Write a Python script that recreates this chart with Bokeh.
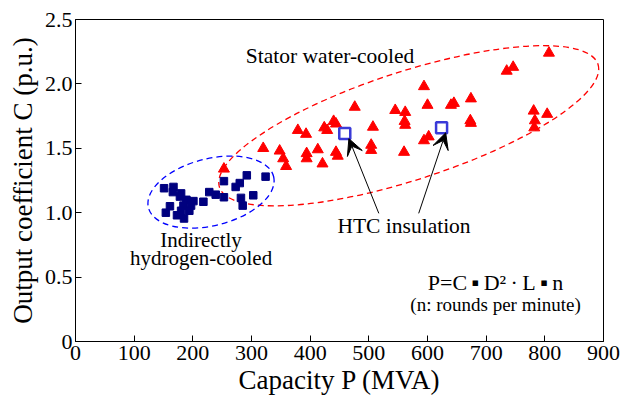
import numpy as np
from bokeh.plotting import figure
from bokeh.models import Range1d, Arrow, VeeHead, Label, FixedTicker
from bokeh.embed import file_html
from bokeh.resources import INLINE

# ---- data ----
indirect_x = [151, 167, 166, 180, 178, 189, 201, 218, 228, 239, 161, 184, 197, 194,
              180, 154, 173, 185, 253, 292, 324, 280, 273, 253, 282, 303, 285]
indirect_y = [1.19, 1.20, 1.16, 1.15, 1.125, 1.10, 1.09, 1.085, 1.16, 1.14, 1.05, 1.055,
              1.055, 1.015, 1.015, 1.00, 0.98, 0.955, 1.245, 1.29, 1.28, 1.23, 1.20,
              1.12, 1.115, 1.135, 1.055]

water_x = [253, 320, 348, 354, 359, 379, 393, 394, 394, 413, 421, 424, 429, 440, 444,
           444, 447, 476, 507, 504, 504, 545, 562, 561, 562, 560, 594, 600, 594, 602,
           640, 645, 674, 673, 674, 735, 746, 807, 781, 804, 783, 782]
water_y = [1.34, 1.50, 1.48, 1.42, 1.36, 1.64, 1.61, 1.46, 1.42, 1.49, 1.38, 1.66, 1.64,
           1.71, 1.69, 1.47, 1.44, 1.82, 1.665, 1.525, 1.485, 1.795, 1.78, 1.71, 1.68,
           1.47, 1.98, 1.835, 1.56, 1.59, 1.835, 1.85, 1.885, 1.715, 1.695, 2.10, 2.13,
           2.24, 1.79, 1.765, 1.715, 1.66]

htc_x = [459, 624]
htc_y = [1.615, 1.66]

x_ticks = [0, 100, 200, 300, 400, 500, 600, 700, 800, 900]
y_ticks = [0, 0.5, 1.0, 1.5, 2.0, 2.5]
y_tick_labels = ["0", "0.5", "1.0", "1.5", "2.0", "2.5"]

FONT = "Liberation Serif"

p = figure(width=624, height=405, output_backend="svg", toolbar_location=None,
           x_range=Range1d(0, 900), y_range=Range1d(0, 2.5),
           min_border_left=75, min_border_right=21, min_border_top=19, min_border_bottom=64)
p.background_fill_color = "white"
p.border_fill_color = "white"
p.outline_line_color = "black"
p.outline_line_width = 1
p.outline_line_alpha = 1
p.xgrid.visible = False
p.ygrid.visible = False

p.xaxis.ticker = FixedTicker(ticks=x_ticks)
p.yaxis.ticker = FixedTicker(ticks=y_ticks)
p.yaxis.major_label_overrides = {t: l for t, l in zip(y_ticks, y_tick_labels)}
for ax in (p.xaxis, p.yaxis):
    ax.major_tick_in = 6
    ax.major_tick_out = 0
    ax.minor_tick_line_color = None
    ax.axis_line_color = "black"
    ax.major_tick_line_color = "black"
    ax.major_label_text_font = FONT
    ax.major_label_text_font_size = "22px"
    ax.major_label_text_color = "black"
    ax.axis_label_text_font = FONT
    ax.axis_label_text_font_size = "27px"
    ax.axis_label_text_font_style = "normal"
    ax.axis_label_text_color = "black"
p.xaxis.axis_label = "Capacity P (MVA)"
p.yaxis.axis_label = "Output coefficient C (p.u.)"
p.xaxis.major_label_standoff = 4
p.yaxis.major_label_standoff = 3
p.xaxis.axis_label_standoff = 2
p.yaxis.axis_label_standoff = 4

# ellipses (screen-size groupings)
p.ellipse(x=[568], y=[1.675], width=398, height=108, angle=np.radians(18),
          width_units="screen", height_units="screen",
          fill_color=None, line_color="red", line_dash="6 4", line_width=1.3)
p.ellipse(x=[231], y=[1.16], width=129, height=67, angle=np.radians(14),
          width_units="screen", height_units="screen",
          fill_color=None, line_color="blue", line_dash="6 4", line_width=1.3)

p.scatter(x=water_x, y=water_y, marker="triangle", size=11,
          fill_color="red", line_color="red")
p.scatter(x=indirect_x, y=indirect_y, marker="square", size=7.5,
          fill_color="#00007f", line_color="#00007f")
p.scatter(x=htc_x, y=htc_y, marker="square", size=11,
          fill_color="white", line_color="#3a3ad8", line_width=2.5)

# arrows to HTC points
starts = [(517, 0.995), (585, 0.995)]
for (sx, sy), hx, hy in zip(starts, htc_x, htc_y):
    p.add_layout(Arrow(end=VeeHead(size=16, fill_color="black", line_color="black"),
                       x_start=sx, y_start=sy, x_end=hx + 7, y_end=hy - 0.04,
                       line_color="black", line_width=1))

def lab(x, y, text, size):
    p.add_layout(Label(x=x, y=y, text=text, text_font=FONT, text_font_size=size,
                       text_align="center", text_baseline="middle", text_color="black"))

lab(434, 2.22, "Stator water-cooled", "21.5px")
lab(214, 0.785, "Indirectly", "21px")
lab(214, 0.645, "hydrogen-cooled", "21px")
lab(560, 0.895, "HTC insulation", "21.5px")
lab(716, 0.46, "P=C\u2009\u25aa\u2009D\u00b2\u2009\u00b7\u2009L\u2009\u25aa\u2009n", "22px")
lab(716, 0.285, "(n: rounds per minute)", "19px")

open("out.html", "w").write(file_html(p, INLINE))
